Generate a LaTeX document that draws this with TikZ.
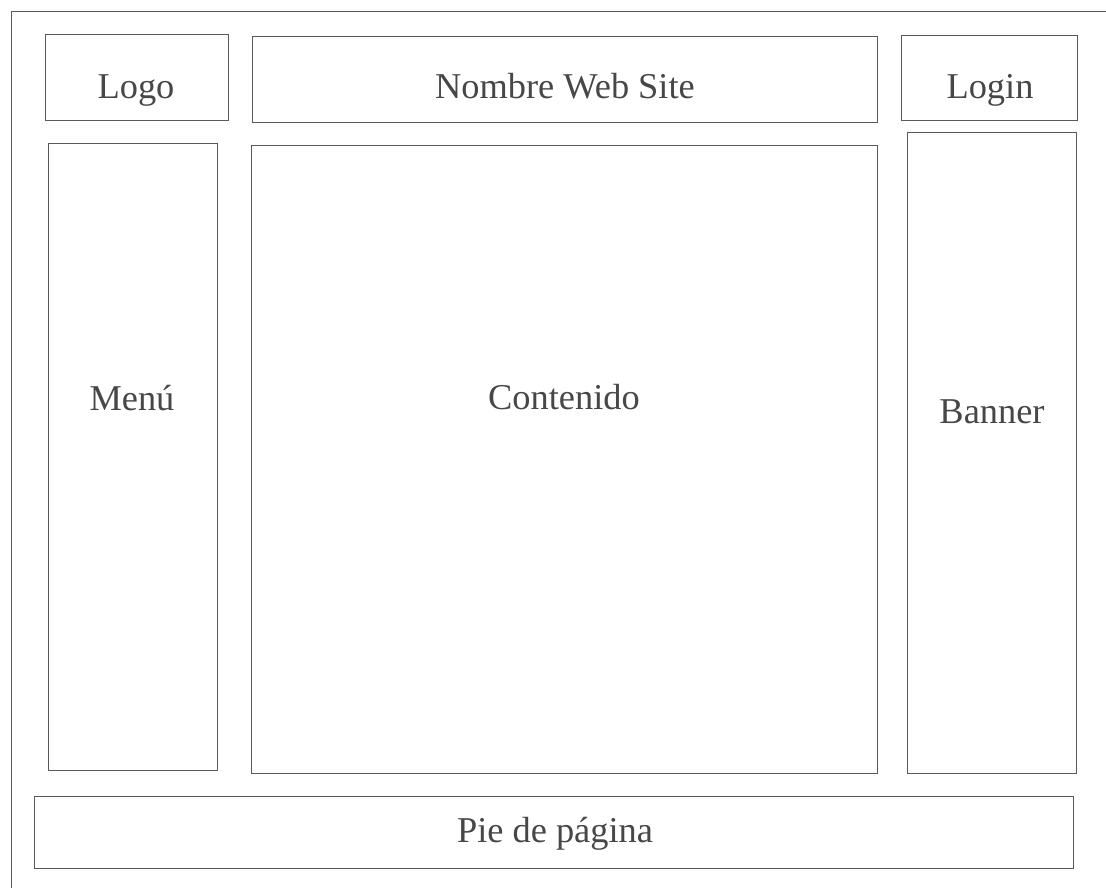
\documentclass[tikz,border=0pt]{standalone}
\usepackage{fontspec}
\setmainfont{Liberation Serif}
\tikzset{
    box/.style = {draw=black!65, line width=0.5pt},
    lbl/.style = {anchor=base, inner sep=0pt, text=black!72,
                  font=\fontsize{20.7}{24}\selectfont}
}

\begin{document}
\begin{tikzpicture}[x=0.02cm, y=-0.02cm]
    \useasboundingbox (0,0) rectangle (1106,888);

    % outer frame (open to the right and bottom)
    \draw[box] (11,888) -- (11,11) -- (1106,11);

    % header row
    \draw[box] (45,34) rectangle (228,120);
    \draw[box] (252,36) rectangle (877,122);
    \draw[box] (901,35) rectangle (1077,120);

    % columns
    \draw[box] (48,143) rectangle (217,770);
    \draw[box] (251,145) rectangle (877,773);
    \draw[box] (907,132) rectangle (1076,773);

    % footer
    \draw[box] (34,796) rectangle (1073,868);

    \node[lbl] (logo)      at (136,99)  {Logo};
    \node[lbl] (nombre)    at (565,99)  {Nombre Web Site};
    \node[lbl] (login)     at (990,99)  {Login};
    \node[lbl] (menu)      at (132,411) {Menú};
    \node[lbl] (contenido) at (564,410) {Contenido};
    \node[lbl] (banner)    at (992,424) {Banner};
    \node[lbl] (pie)       at (555,842) {Pie de página};
\end{tikzpicture}
\end{document}
